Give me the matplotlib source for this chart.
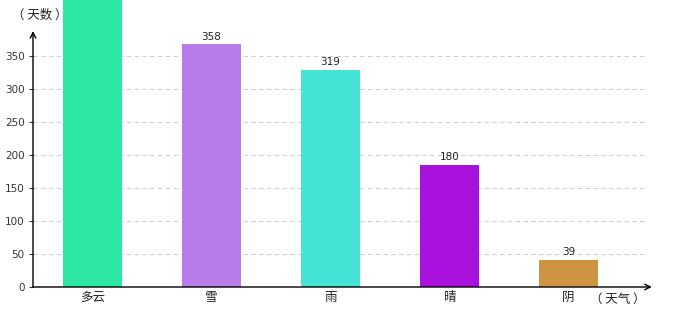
import matplotlib
matplotlib.use("Agg")
import matplotlib.pyplot as plt

plt.rcParams['font.family'] = ['DejaVu Sans', 'Noto Sans CJK SC']

categories = ['多云', '雪', '雨', '晴', '阴']
bar_heights = [440, 368, 329, 185, 41]
value_labels = ['', '358', '319', '180', '39']
colors = ['#2de8a5', '#b87bea', '#45e3d6', '#a812dc', '#cf9443']
yticks = [0, 50, 100, 150, 200, 250, 300, 350]

fig = plt.figure(figsize=(6.8, 3.2), dpi=100)
ax = fig.add_axes([33/680, 33/320, 615/680, 287/320])
xs = list(range(len(categories)))
ax.bar(xs, bar_heights, width=0.5, color=colors, zorder=2)
ax.set_xlim(-0.5, 4.668)
ax.set_ylim(0, 435)

for s in ax.spines.values():
    s.set_visible(False)

for t in yticks[1:]:
    ax.axhline(t, color='#d0d0d0', lw=0.8, ls=(0, (4, 3)), zorder=1)

ax.set_yticks(yticks)
ax.set_yticklabels([str(t) for t in yticks], fontsize=7.5, color='#333333')
ax.tick_params(axis='y', length=3, width=0.8, pad=3, color='#333333')
ax.set_xticks(xs)
ax.set_xticklabels(categories, fontsize=9, family=['Noto Sans CJK SC'], color='#222222')
ax.tick_params(axis='x', length=0, pad=3)

for x, h, lab in zip(xs, bar_heights, value_labels):
    if lab:
        ax.text(x, h + 4, lab, ha='center', va='bottom', fontsize=7.5, color='#222222')

# axes with arrows
ax.annotate('', xy=(4.70, 0), xytext=(-0.5, 0), xycoords='data',
            arrowprops=dict(arrowstyle='->', lw=1.0, color='black', shrinkA=0, shrinkB=0),
            annotation_clip=False)
ax.annotate('', xy=(-0.5, 388), xytext=(-0.5, 0), xycoords='data',
            arrowprops=dict(arrowstyle='->', lw=1.0, color='black', shrinkA=0, shrinkB=0),
            annotation_clip=False)

fig.text(40/680, 1 - 15/320, '（ 天数 ）', ha='center', va='center', fontsize=9,
         family=['Noto Sans CJK SC'], color='#222222')
fig.text(618/680, 1 - 299/320, '（ 天气 ）', ha='center', va='center', fontsize=9,
         family=['Noto Sans CJK SC'], color='#222222')

fig.savefig('out.png', dpi=100)
